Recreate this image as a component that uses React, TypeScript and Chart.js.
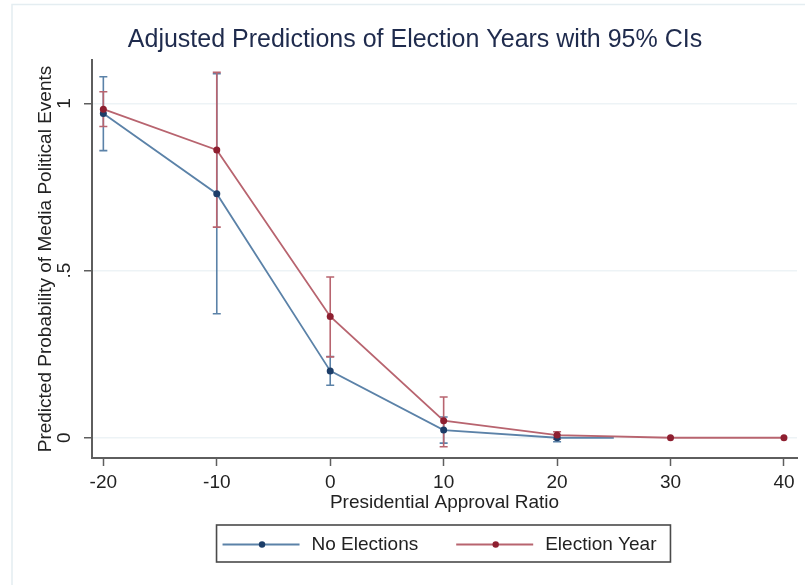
import React, { useEffect, useRef } from "react";
import { Chart, registerables } from "chart.js";

Chart.register(...registerables);

const titleText = "Adjusted Predictions of Election Years with 95% CIs";
const xAxisTitle = "Presidential Approval Ratio";
const yAxisTitle = "Predicted Probability of Media Political Events";

const xTickValues = [-20, -10, 0, 10, 20, 30, 40];
const xTickLabels = ["-20", "-10", "0", "10", "20", "30", "40"];
const yTickValues = [0, 0.5, 1];
const yTickLabels = ["0", ".5", "1"];

const noElecLabel = "No Elections";
const noElecX = [-20, -10, 0, 10, 20, 25];
const noElecY = [0.97, 0.73, 0.2, 0.023, 0.0, 0.0];
const noElecLow = [0.859, 0.371, 0.157, -0.016, -0.012, null];
const noElecHigh = [1.08, 1.089, 0.243, 0.062, 0.008, null];
const noElecMarker = [true, true, true, true, true, false];

const elecLabel = "Election Year";
const elecX = [-20, -10, 0, 10, 20, 30, 40];
const elecY = [0.983, 0.861, 0.363, 0.051, 0.008, 0.0, 0.0];
const elecLow = [0.931, 0.63, 0.242, -0.027, -0.004, null, null];
const elecHigh = [1.035, 1.093, 0.481, 0.122, 0.018, null, null];

const FONT = "'Liberation Sans', Arial, sans-serif";
const BLUE_LINE = "#5b82a8";
const BLUE_MARK = "#1c3d68";
const RED_LINE = "#b8646f";
const RED_MARK = "#8e1f30";
const AXIS = "#5e5e5e";
const TEXT = "#222222";

export default function App() {
  const ref = useRef<HTMLCanvasElement | null>(null);

  useEffect(() => {
    if (!ref.current) return;

    const errorSeries = [
      { xs: noElecX, lows: noElecLow, highs: noElecHigh, color: BLUE_LINE },
      { xs: elecX, lows: elecLow, highs: elecHigh, color: RED_LINE },
    ];

    const bgPlugin = {
      id: "bg",
      beforeDraw(chart: any) {
        const ctx = chart.ctx;
        ctx.save();
        ctx.fillStyle = "#ffffff";
        ctx.fillRect(0, 0, chart.width, chart.height);
        ctx.strokeStyle = "#e4edf1";
        ctx.lineWidth = 1.5;
        ctx.beginPath();
        ctx.moveTo(12, chart.height);
        ctx.lineTo(12, 4.5);
        ctx.lineTo(chart.width, 4.5);
        ctx.stroke();
        ctx.restore();
      },
    };

    const errPlugin = {
      id: "errbars",
      beforeDatasetsDraw(chart: any) {
        const ctx = chart.ctx;
        const xs = chart.scales.x;
        const ys = chart.scales.y;
        ctx.save();
        ctx.lineWidth = 1.6;
        errorSeries.forEach((s) => {
          ctx.strokeStyle = s.color;
          s.xs.forEach((xv, i) => {
            const lo = s.lows[i];
            const hi = s.highs[i];
            if (lo === null || hi === null) return;
            const px = xs.getPixelForValue(xv);
            const pLo = ys.getPixelForValue(lo);
            const pHi = ys.getPixelForValue(hi);
            ctx.beginPath();
            ctx.moveTo(px, pLo);
            ctx.lineTo(px, pHi);
            ctx.moveTo(px - 4, pLo);
            ctx.lineTo(px + 4, pLo);
            ctx.moveTo(px - 4, pHi);
            ctx.lineTo(px + 4, pHi);
            ctx.stroke();
          });
        });
        ctx.restore();
      },
    };

    const legendPlugin = {
      id: "boxLegend",
      afterDraw(chart: any) {
        const ctx = chart.ctx;
        const ca = chart.chartArea;
        const items = [
          { label: noElecLabel, line: BLUE_LINE, mark: BLUE_MARK },
          { label: elecLabel, line: RED_LINE, mark: RED_MARK },
        ];
        ctx.save();
        ctx.font = `19px ${FONT}`;
        const sampleW = 77;
        const gapText = 12;
        const gapItem = 38;
        const padL = 6;
        const padR = 14;
        const widths = items.map((it) => ctx.measureText(it.label).width);
        const total = padL + sampleW + gapText + widths[0] + gapItem + sampleW + gapText + widths[1] + padR;
        const cx = (ca.left + ca.right) / 2 - 1;
        const left = cx - total / 2;
        const top = ca.bottom + 67;
        const h = 37;
        const cy = top + h / 2 + 1;
        ctx.strokeStyle = "#4a4a4a";
        ctx.lineWidth = 1.6;
        ctx.strokeRect(left, top, total, h);
        let x = left + padL;
        items.forEach((it, k) => {
          ctx.strokeStyle = it.line;
          ctx.lineWidth = 1.8;
          ctx.beginPath();
          ctx.moveTo(x, cy);
          ctx.lineTo(x + sampleW, cy);
          ctx.stroke();
          ctx.fillStyle = it.mark;
          ctx.beginPath();
          ctx.arc(x + sampleW / 2 + 1, cy, 3.2, 0, Math.PI * 2);
          ctx.fill();
          x += sampleW + gapText;
          ctx.fillStyle = TEXT;
          ctx.textAlign = "left";
          ctx.textBaseline = "middle";
          ctx.fillText(it.label, x, cy);
          x += widths[k] + gapItem;
        });
        ctx.restore();
      },
    };

    const chart = new Chart(ref.current, {
      type: "line",
      data: {
        datasets: [
          {
            label: noElecLabel,
            data: noElecX.map((x, i) => ({ x, y: noElecY[i] })),
            borderColor: BLUE_LINE,
            backgroundColor: BLUE_MARK,
            pointBackgroundColor: BLUE_MARK,
            pointBorderColor: BLUE_MARK,
            pointRadius: noElecMarker.map((m) => (m ? 3.5 : 0)),
            pointBorderWidth: 0,
            borderWidth: 1.8,
            tension: 0,
            order: 2,
          },
          {
            label: elecLabel,
            data: elecX.map((x, i) => ({ x, y: elecY[i] })),
            borderColor: RED_LINE,
            backgroundColor: RED_MARK,
            pointBackgroundColor: RED_MARK,
            pointBorderColor: RED_MARK,
            pointRadius: 3.5,
            pointBorderWidth: 0,
            borderWidth: 1.8,
            tension: 0,
            order: 1,
          },
        ],
      },
      options: {
        responsive: false,
        animation: false,
        layout: { padding: { left: 33, right: 8, top: 0, bottom: 67 } },
        plugins: {
          legend: { display: false },
          tooltip: { enabled: false },
          title: {
            display: true,
            text: titleText,
            color: "#1f2b4d",
            font: { family: FONT, size: 25, weight: "normal" },
            padding: { top: 25, bottom: 5 },
          },
        },
        scales: {
          x: {
            type: "linear",
            min: -21,
            max: 41.15,
            afterBuildTicks: (s: any) => {
              s.ticks = xTickValues.map((v) => ({ value: v }));
            },
            afterFit: (s: any) => {
              s.height = 60;
            },
            ticks: {
              color: TEXT,
              font: { family: FONT, size: 19 },
              padding: 5,
              maxRotation: 0,
              autoSkip: false,
              callback: (_v: any, i: number) => xTickLabels[i],
            },
            grid: {
              display: true,
              drawOnChartArea: false,
              tickLength: 8,
              tickColor: AXIS,
              tickWidth: 1.5,
            },
            border: { display: true, color: AXIS, width: 2 },
            title: {
              display: true,
              text: xAxisTitle,
              color: TEXT,
              font: { family: FONT, size: 19 },
              padding: { top: 0, bottom: 3.6 },
            },
          },
          y: {
            type: "linear",
            min: -0.0606,
            max: 1.13,
            afterBuildTicks: (s: any) => {
              s.ticks = yTickValues.map((v) => ({ value: v }));
            },
            afterFit: (s: any) => {
              s.width = 59;
            },
            ticks: {
              color: TEXT,
              font: { family: FONT, size: 19 },
              padding: 11,
              minRotation: 90,
              maxRotation: 90,
              crossAlign: "center",
              autoSkip: false,
              callback: (_v: any, i: number) => yTickLabels[i],
            },
            grid: {
              display: true,
              color: "#edf3f6",
              lineWidth: 1.5,
              tickLength: 8,
              tickColor: AXIS,
              tickWidth: 1.5,
            },
            border: { display: true, color: AXIS, width: 2 },
            title: {
              display: true,
              text: yAxisTitle,
              color: TEXT,
              font: { family: FONT, size: 19 },
              padding: { top: 1, bottom: 0 },
            },
          },
        },
      },
      plugins: [bgPlugin, errPlugin, legendPlugin],
    } as any);

    return () => chart.destroy();
  }, []);

  return (
    <div style={{ position: "absolute", left: 0, top: 0, width: 805, height: 585 }}>
      <canvas ref={ref} width={805} height={585} style={{ width: 805, height: 585, display: "block" }} />
    </div>
  );
}
